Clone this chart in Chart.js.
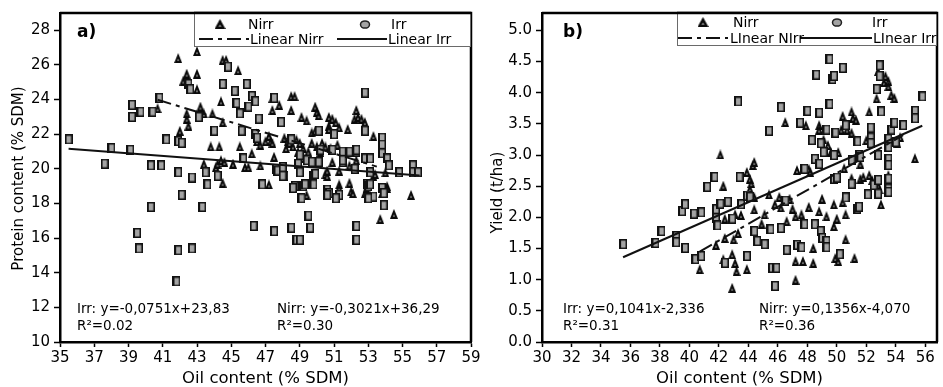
<!DOCTYPE html>
<html><head><meta charset="utf-8">
<script src="https://cdn.jsdelivr.net/npm/chart.js@4"></script>
<style>
html,body{margin:0;padding:0;background:#fff;}
#wrap{position:relative;width:943px;height:387px;overflow:hidden;background:#fff;}
canvas{position:absolute;top:0;}
#ca{left:0;} #cb{left:470px;}
</style></head><body>
<div id="wrap"><canvas id="ca" width="500" height="387"></canvas><canvas id="cb" width="473" height="387"></canvas></div>
<script>
// ---------- Panel a) Protein content vs Oil content ----------
const aXTicks = [35,37,39,41,43,45,47,49,51,53,55,57,59];
const aYTicks = [10,12,14,16,18,20,22,24,26,28];
const aNirr = [[40.7,23.5],[41.9,26.4],[42.0,22.2],[42.2,25.1],[42.4,25.5],[42.4,23.2],[42.4,22.9],[42.5,22.5],[43.0,26.8],[43.0,25.5],[43.0,24.6],[43.2,23.6],[43.4,23.2],[43.8,21.3],[43.9,23.2],[43.4,20.3],[44.1,20.1],[44.2,20.3],[44.3,21.3],[44.4,20.5],[44.4,23.9],[44.5,22.7],[44.5,26.3],[44.7,26.3],[44.5,19.2],[44.6,20.4],[45.1,20.3],[45.4,25.7],[45.5,21.3],[45.8,20.1],[46.0,20.1],[46.2,20.9],[46.5,21.6],[46.7,21.4],[46.7,20.2],[47.0,21.6],[47.2,21.9],[47.2,19.1],[47.3,21.6],[47.4,24.1],[47.4,23.4],[47.4,21.5],[47.5,20.7],[47.8,23.7],[48.1,21.8],[48.2,21.2],[48.3,21.6],[48.4,21.5],[48.5,24.2],[48.7,24.2],[48.5,23.4],[48.6,21.3],[48.8,21.7],[48.9,21.0],[49.0,21.5],[49.1,23.0],[49.2,21.2],[49.3,20.6],[49.4,22.8],[49.4,18.5],[49.5,21.0],[49.7,22.1],[49.7,21.5],[49.9,22.2],[49.9,23.6],[50.0,23.3],[50.0,21.3],[50.1,23.1],[50.2,21.0],[50.3,21.5],[50.5,21.3],[50.5,19.7],[50.6,19.6],[50.6,19.9],[50.7,23.0],[50.7,22.5],[50.7,22.3],[50.8,21.2],[50.9,22.9],[50.9,20.4],[51.1,22.7],[51.2,21.4],[51.3,22.4],[51.3,19.9],[51.3,19.1],[51.3,18.9],[51.5,21.0],[51.8,22.3],[51.9,19.2],[51.9,20.2],[52.0,18.7],[52.1,18.6],[52.2,22.9],[52.3,23.4],[52.3,20.5],[52.4,23.0],[52.6,22.9],[52.8,22.7],[52.8,18.6],[52.9,18.9],[53.0,19.1],[53.3,21.9],[53.3,19.6],[53.4,19.7],[53.7,17.1],[53.8,18.6],[54.0,19.8],[54.1,19.0],[54.1,18.9],[54.5,17.4],[55.5,18.5]];
const aIrr = [[35.5,21.7],[37.6,20.3],[38.0,21.2],[39.1,21.1],[39.2,23.7],[39.2,23.0],[39.7,23.3],[40.4,23.3],[40.8,24.1],[40.3,20.2],[40.9,20.2],[41.2,21.7],[41.9,21.6],[42.1,21.5],[41.9,19.8],[42.7,19.5],[42.5,24.9],[42.6,24.6],[43.1,23.0],[43.5,19.8],[43.6,19.1],[44.0,22.2],[44.2,19.6],[44.5,24.9],[44.8,25.9],[45.2,24.5],[45.3,23.8],[45.5,23.2],[45.6,22.2],[45.9,24.9],[46.0,23.6],[46.2,24.2],[46.4,23.9],[45.7,20.6],[46.6,22.9],[46.4,22.0],[46.5,21.8],[46.8,19.1],[47.5,24.1],[47.6,20.0],[47.7,19.9],[47.9,22.7],[48.0,20.1],[48.1,19.6],[48.0,19.6],[48.5,21.7],[48.7,19.0],[48.6,18.9],[48.9,20.3],[49.0,20.8],[49.0,19.8],[49.2,19.0],[49.3,19.1],[49.4,20.5],[49.7,20.4],[49.8,19.6],[49.8,19.1],[49.9,19.7],[50.1,22.2],[50.1,20.4],[50.2,21.1],[50.6,18.8],[50.7,18.6],[50.9,21.1],[51.0,22.0],[51.3,18.5],[51.5,21.0],[51.5,20.4],[51.5,20.5],[51.9,21.0],[52.2,20.0],[52.3,21.0],[52.3,21.1],[52.8,24.4],[52.8,22.2],[52.8,20.6],[52.9,19.1],[53.0,19.0],[53.1,20.6],[53.1,19.8],[53.1,19.1],[53.3,18.4],[53.8,21.8],[53.8,21.4],[53.8,20.9],[53.8,18.9],[53.9,18.6],[53.9,17.9],[54.1,20.6],[54.2,20.2],[54.8,19.8],[55.6,20.2],[55.6,19.8],[55.9,19.8],[39.5,16.3],[39.6,15.4],[40.3,17.8],[42.1,18.5],[41.9,15.3],[41.8,13.5],[42.7,15.4],[43.3,17.8],[46.3,16.7],[47.5,16.4],[48.5,16.6],[48.8,15.9],[49.0,15.9],[49.1,18.3],[49.5,17.3],[49.6,16.6],[50.6,18.5],[51.1,18.3],[52.3,16.7],[52.3,15.9],[53.0,18.3]];
const aLinNirr = [[40.7,23.99],[53.5,20.13]];
const aLinIrr = [[35.5,21.16],[56.0,19.62]];

// ---------- Panel b) Yield vs Oil content ----------
const bXTicks = [30,32,34,36,38,40,42,44,46,48,50,52,54,56];
const bYTicks = [0,0.5,1,1.5,2,2.5,3,3.5,4,4.5,5];
const bNirr = [[40.7,1.17],[41.8,1.56],[42.1,3.01],[42.3,2.51],[42.3,1.33],[42.4,1.98],[42.4,1.67],[42.9,1.41],[42.9,0.87],[43.0,1.65],[43.1,2.05],[43.1,1.27],[43.2,1.14],[43.3,1.75],[43.5,2.04],[43.9,2.73],[43.9,1.17],[44.1,2.62],[44.1,2.46],[44.2,2.55],[44.3,2.84],[44.4,2.89],[44.4,2.33],[44.4,2.13],[44.9,1.90],[45.1,2.05],[45.4,2.37],[45.8,2.21],[46.1,2.33],[46.2,2.16],[46.5,3.53],[46.6,1.94],[46.8,2.30],[47.0,2.14],[47.2,2.02],[47.2,1.30],[47.2,1.00],[47.3,2.76],[47.6,2.05],[47.7,1.30],[47.9,3.48],[48.1,2.78],[48.1,2.17],[48.2,2.73],[48.4,1.51],[48.4,1.27],[48.8,3.48],[48.8,3.41],[48.8,2.10],[49.0,2.30],[49.1,3.25],[49.3,2.02],[49.4,3.16],[49.6,3.05],[49.8,2.21],[49.8,1.86],[49.9,1.35],[50.0,1.98],[50.1,3.05],[50.1,1.30],[50.3,3.41],[50.4,3.63],[50.4,2.25],[50.5,2.79],[50.6,2.05],[50.6,1.65],[50.7,3.41],[51.0,3.70],[51.1,3.60],[51.0,3.36],[51.0,2.63],[51.2,1.35],[51.3,3.57],[51.6,2.86],[51.6,2.62],[51.8,2.65],[52.0,3.24],[52.2,3.70],[52.2,2.68],[52.4,2.60],[52.7,3.91],[52.8,4.35],[52.8,2.52],[52.9,2.45],[53.0,2.21],[53.2,4.17],[53.3,4.27],[53.5,4.19],[53.5,4.11],[53.5,2.68],[53.7,3.97],[53.9,3.92],[54.1,3.20],[54.3,3.29],[55.3,2.95]];
const bIrr = [[35.5,1.57],[37.7,1.59],[38.1,1.78],[39.1,1.70],[39.1,1.60],[39.7,1.51],[39.5,2.10],[39.7,2.21],[40.3,2.06],[40.8,2.08],[40.4,1.33],[40.8,1.38],[41.2,2.49],[41.7,2.65],[41.8,2.13],[41.8,1.99],[41.9,1.87],[42.1,2.22],[42.4,1.27],[42.6,2.25],[42.9,1.98],[43.3,3.86],[43.4,2.65],[43.5,2.21],[43.9,1.38],[43.9,2.35],[44.1,2.33],[44.4,1.78],[44.6,1.62],[45.1,1.57],[45.4,3.39],[45.5,1.81],[45.6,1.19],[45.9,1.19],[45.8,0.90],[46.2,3.77],[46.2,1.83],[46.5,2.27],[46.6,1.48],[47.3,1.56],[47.6,1.52],[47.5,3.52],[48.0,3.71],[47.8,2.78],[47.8,1.89],[48.3,3.24],[48.5,2.94],[48.5,1.89],[48.6,4.29],[48.8,3.68],[48.8,2.86],[48.9,3.19],[48.9,1.78],[49.0,1.67],[49.1,3.05],[49.3,3.41],[49.3,1.62],[49.3,1.52],[49.5,4.54],[49.5,3.82],[49.7,4.22],[49.8,4.27],[49.8,3.00],[49.8,2.62],[49.9,3.36],[50.0,2.64],[50.2,1.41],[50.4,4.40],[50.6,3.48],[50.6,2.32],[51.0,2.92],[51.0,2.54],[51.4,3.22],[51.4,2.14],[51.5,3.00],[51.5,2.17],[51.6,2.97],[52.1,2.37],[52.3,3.44],[52.3,3.28],[52.3,3.19],[52.5,2.52],[52.7,4.06],[52.8,3.00],[52.8,2.60],[52.8,2.38],[52.9,4.44],[52.9,4.27],[53.0,3.70],[53.5,3.26],[53.5,3.13],[53.5,2.94],[53.5,2.84],[53.5,2.62],[53.5,2.46],[53.5,2.41],[53.7,3.41],[53.9,3.52],[54.0,3.21],[54.5,3.48],[55.3,3.71],[55.3,3.59],[55.8,3.94]];
const bLinNirr = [[40.7,1.45],[54.5,3.32]];
const bLinIrr = [[35.5,1.36],[55.8,3.47]];

// ---------- drawing helpers ----------
const F = "'DejaVu Sans', sans-serif";
const GRAY = '#a4a4a4';
const DASHDOT = [14,5,4,5];

function makeSquare(){
  const c = document.createElement('canvas'); c.width = 8; c.height = 10;
  const g = c.getContext('2d');
  g.fillStyle = '#111'; g.fillRect(0,0,8,10);
  g.fillStyle = GRAY; g.fillRect(2,1.5,4.5,7);
  return c;
}
function makeTri(w,h){
  const c = document.createElement('canvas'); c.width = w; c.height = h;
  const g = c.getContext('2d');
  g.fillStyle = '#0a0a0a';
  g.beginPath(); g.moveTo(w/2,0); g.lineTo(w,h); g.lineTo(0,h); g.closePath(); g.fill();
  g.fillStyle = GRAY;
  g.beginPath(); g.moveTo(w/2,h*0.55); g.lineTo(w*0.63,h-2.2); g.lineTo(w*0.37,h-2.2); g.closePath(); g.fill();
  return c;
}
const sqImg = makeSquare();
const triImg = makeTri(8,10);
const triLeg = makeTri(11,10);

const toXY = arr => arr.map(p => ({x:p[0], y:p[1]}));

const decor = {
  id: 'decor',
  afterDatasetsDraw(chart, args, o) {
    const ctx = chart.ctx, ca = chart.chartArea;
    ctx.save();
    // frame (top & right)
    ctx.strokeStyle = '#000'; ctx.lineWidth = 2.5;
    ctx.beginPath(); ctx.moveTo(ca.left, ca.top); ctx.lineTo(ca.right, ca.top); ctx.lineTo(ca.right, ca.bottom); ctx.stroke();
    // legend box
    const bx = ca.left + o.boxLeft, by = ca.top, bw = ca.right - bx, bh = o.boxH;
    ctx.fillStyle = '#fff'; ctx.fillRect(bx, by, bw, bh);
    ctx.strokeStyle = '#6a6a6a'; ctx.lineWidth = 1;
    ctx.strokeRect(bx + 0.5, by + 0.5, bw - 1, bh - 1);
    ctx.strokeStyle = '#000'; ctx.lineWidth = 2.5;
    ctx.beginPath(); ctx.moveTo(bx, ca.top); ctx.lineTo(ca.right, ca.top); ctx.stroke();
    // legend items
    const r1 = ca.top + o.row1, r2 = ca.top + o.row2;
    ctx.drawImage(triLeg, ca.left + o.triX - 5.5, r1 - 10);
    ctx.fillStyle = GRAY; ctx.strokeStyle = '#222'; ctx.lineWidth = 1.5;
    ctx.beginPath(); ctx.ellipse(ca.left + o.irrX, r1 - 4.5, 4.5, 3.6, 0, 0, Math.PI*2); ctx.fill(); ctx.stroke();
    ctx.fillStyle = '#000';
    ctx.font = '14px ' + F; ctx.textBaseline = 'alphabetic'; ctx.textAlign = 'left';
    ctx.fillText('Nirr', ca.left + o.nirrTx, r1);
    ctx.fillText('Irr', ca.left + o.irrTx, r1);
    ctx.strokeStyle = '#111'; ctx.lineWidth = 2;
    ctx.setLineDash(DASHDOT);
    ctx.beginPath(); ctx.moveTo(ca.left + o.dd0, r2 - 5); ctx.lineTo(ca.left + o.dd1, r2 - 5); ctx.stroke();
    ctx.setLineDash([]);
    ctx.beginPath(); ctx.moveTo(ca.left + o.sl0, r2 - 5); ctx.lineTo(ca.left + o.sl1, r2 - 5); ctx.stroke();
    ctx.fillText(o.linNirrTxt, ca.left + o.linNirrTx, r2);
    ctx.fillText(o.linIrrTxt, ca.left + o.linIrrTx, r2);
    // panel letter
    ctx.font = 'bold 17px ' + F;
    ctx.fillText(o.letter, ca.left + o.letterX, ca.top + 24);
    // equations
    ctx.font = '13.5px ' + F;
    ctx.fillText(o.eqIrr, ca.left + o.eqIrrX, ca.bottom - 29);
    ctx.fillText(o.r2Irr, ca.left + o.eqIrrX, ca.bottom - 12);
    ctx.fillText(o.eqNirr, ca.left + o.eqNirrX, ca.bottom - 29);
    ctx.fillText(o.r2Nirr, ca.left + o.eqNirrX, ca.bottom - 12);
    // y-axis title
    ctx.font = '15px ' + F; ctx.textAlign = 'center'; ctx.textBaseline = 'middle';
    ctx.translate(o.yTitleX, (ca.top + ca.bottom) / 2 + o.yTitleDy);
    ctx.rotate(-Math.PI / 2);
    ctx.fillText(o.yTitle, 0, 0);
    ctx.restore();
  }
};

function build(id, p) {
  return new Chart(document.getElementById(id), {
    type: 'scatter',
    data: { datasets: [
      { label: 'Linear Nirr', data: toXY(p.linNirr), showLine: true, borderColor: '#111', borderWidth: 2, borderDash: DASHDOT, pointRadius: 0, order: 0 },
      { label: 'Linear Irr', data: toXY(p.linIrr), showLine: true, borderColor: '#111', borderWidth: 2, pointRadius: 0, order: 0 },
      { label: 'Irr', data: toXY(p.irr), pointStyle: sqImg, pointRadius: 5, order: 1 },
      { label: 'Nirr', data: toXY(p.nirr), pointStyle: triImg, pointRadius: 5, order: 2 }
    ]},
    options: {
      responsive: false, animation: false, devicePixelRatio: 1,
      layout: { padding: { top: 9, right: p.padRight, left: 0, bottom: 0 } },
      plugins: { legend: { display: false }, tooltip: { enabled: false }, decor: p.decor },
      scales: {
        x: {
          type: 'linear', min: p.xMin, max: p.xMax,
          afterBuildTicks: s => { s.ticks = p.xTicks.map(v => ({ value: v })); },
          afterFit: s => { s.height = 45; },
          ticks: { font: { family: F, size: 15 }, color: '#000', padding: 2, autoSkip: false, maxRotation: 0, callback: v => String(v) },
          grid: { display: true, drawOnChartArea: false, drawTicks: true, tickLength: 5, tickWidth: 1.5, tickColor: '#000' },
          border: { display: true, color: '#000', width: 2.5 },
          title: { display: true, text: 'Oil content (% SDM)', color: '#000', font: { family: F, size: 16.5, lineHeight: 1 }, padding: { top: 0, bottom: 0 } }
        },
        y: {
          type: 'linear', min: p.yMin, max: p.yMax,
          afterBuildTicks: s => { s.ticks = p.yTicks.map(v => ({ value: v })); },
          afterFit: s => { s.width = p.yWidth; },
          ticks: { font: { family: F, size: 15 }, color: '#000', padding: 4, autoSkip: false, callback: p.yFmt },
          grid: { display: true, drawOnChartArea: false, drawTicks: true, tickLength: 6, tickWidth: 1.5, tickColor: '#000' },
          border: { display: true, color: '#000', width: 2.5 },
          title: { display: false }
        }
      }
    },
    plugins: [decor]
  });
}

build('ca', {
  nirr: aNirr, irr: aIrr, linNirr: aLinNirr, linIrr: aLinIrr,
  xMin: 35, xMax: 59, yMin: 10, yMax: 29, xTicks: aXTicks, yTicks: aYTicks,
  yFmt: v => String(v), yWidth: 60, padRight: 29,
  decor: { boxLeft: 134, boxH: 34, row1: 16, row2: 31, triX: 160, nirrTx: 188, irrX: 305, irrTx: 331,
    dd0: 139, dd1: 189, sl0: 277, sl1: 327, linNirrTxt: 'Linear Nirr', linNirrTx: 190, linIrrTxt: 'Linear Irr', linIrrTx: 328,
    letter: 'a)', letterX: 17, eqIrr: 'Irr: y=-0,0751x+23,83', r2Irr: 'R²=0.02', eqIrrX: 17,
    eqNirr: 'Nirr: y=-0,3021x+36,29', r2Nirr: 'R²=0.30', eqNirrX: 217,
    yTitle: 'Protein content (% SDM)', yTitleX: 19, yTitleDy: 1 }
});
build('cb', {
  nirr: bNirr, irr: bIrr, linNirr: bLinNirr, linIrr: bLinIrr,
  xMin: 30, xMax: 56.8, yMin: 0, yMax: 5.28, xTicks: bXTicks, yTicks: bYTicks,
  yFmt: v => Number(v).toFixed(1), yWidth: 72, padRight: 1,
  decor: { boxLeft: 135, boxH: 33, row1: 14, row2: 30, triX: 161, nirrTx: 191, irrX: 295, irrTx: 330,
    dd0: 136, dd1: 186, sl0: 258, sl1: 330, linNirrTxt: 'LInear NIrr', linNirrTx: 188, linIrrTxt: 'LInear Irr', linIrrTx: 331,
    letter: 'b)', letterX: 21, eqIrr: 'Irr: y=0,1041x-2,336', r2Irr: 'R²=0.31', eqIrrX: 21,
    eqNirr: 'Nirr: y=0,1356x-4,070', r2Nirr: 'R²=0.36', eqNirrX: 217,
    yTitle: 'Yield (t/ha)', yTitleX: 28, yTitleDy: 15 }
});
</script>
</body></html>
